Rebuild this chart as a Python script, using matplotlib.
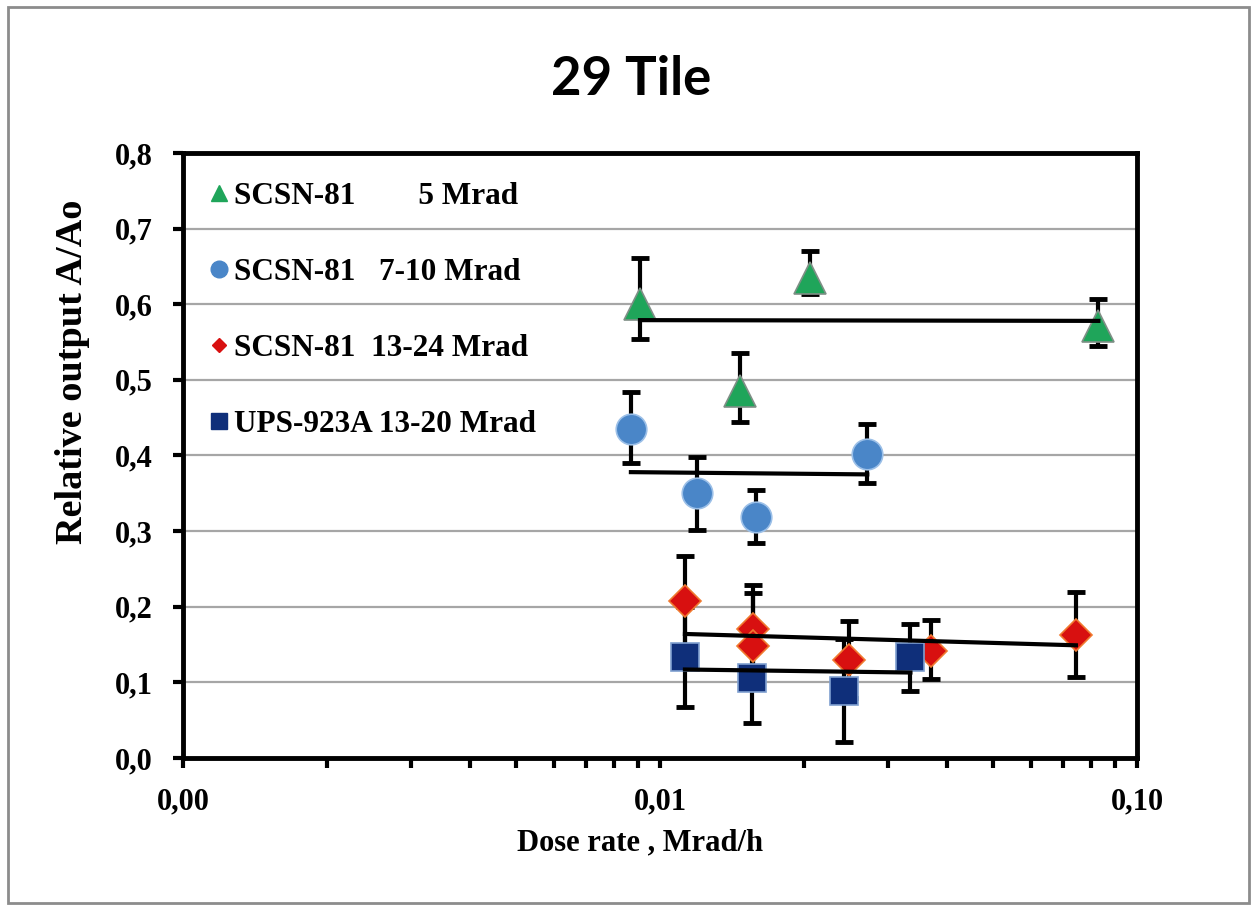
import matplotlib
matplotlib.use('Agg')
from matplotlib import pyplot as plt
from matplotlib.lines import Line2D
from matplotlib.patches import Rectangle
from matplotlib.ticker import FixedLocator, LogLocator, NullFormatter


# SCSN-81, 5 Mrad
green_x = [0.00908, 0.0206, 0.0147, 0.0830]
green_y = [0.600, 0.635, 0.485, 0.571]
green_lo = [0.046, 0.022, 0.041, 0.026]
green_hi = [0.061, 0.035, 0.051, 0.036]
green_fit_x = [0.00908, 0.0830]
green_fit_y = [0.579, 0.578]

# SCSN-81, 7-10 Mrad
blue_x = [0.00869, 0.01197, 0.01592, 0.0272]
blue_y = [0.435, 0.350, 0.319, 0.402]
blue_lo = [0.045, 0.048, 0.035, 0.039]
blue_hi = [0.049, 0.048, 0.035, 0.040]
blue_fit_x = [0.00869, 0.0272]
blue_fit_y = [0.378, 0.375]

# SCSN-81, 13-24 Mrad
red_x = [0.01128, 0.01567, 0.01567, 0.02494, 0.03707, 0.07447]
red_y = [0.207, 0.171, 0.148, 0.129, 0.142, 0.163]
red_lo = [0.060, 0.055, 0.050, 0.050, 0.038, 0.056]
red_hi = [0.060, 0.058, 0.070, 0.052, 0.040, 0.056]
red_fit_x = [0.01128, 0.07447]
red_fit_y = [0.164, 0.149]

# UPS-923A, 13-20 Mrad
navy_x = [0.01128, 0.01560, 0.02436, 0.03350]
navy_y = [0.134, 0.106, 0.089, 0.134]
navy_lo = [0.066, 0.060, 0.068, 0.046]
navy_hi = [0.066, 0.060, 0.068, 0.043]
navy_fit_x = [0.01128, 0.03350]
navy_fit_y = [0.117, 0.113]

labels = [
    'SCSN-81        5 Mrad',
    'SCSN-81   7-10 Mrad',
    'SCSN-81  13-24 Mrad',
    'UPS-923A 13-20 Mrad',
]
x_ticks = [0.001, 0.01, 0.1]
x_tick_labels = ['0,00', '0,01', '0,10']
y_ticks = [0.0, 0.1, 0.2, 0.3, 0.4, 0.5, 0.6, 0.7, 0.8]
y_tick_labels = ['0,0', '0,1', '0,2', '0,3', '0,4', '0,5', '0,6', '0,7', '0,8']

serif = ['Liberation Serif', 'DejaVu Serif']

fig = plt.figure(figsize=(12.57, 9.07), dpi=100)
fig.patches.append(Rectangle(
    (0.006, 0.004), 0.988, 0.988, transform=fig.transFigure,
    fill=False, edgecolor='#8c8c8c', linewidth=2,
))
ax = fig.add_axes([0.1456, 0.1643, 0.7589, 0.667])

ax.set_xscale('log')
ax.set_xlim(0.001, 0.1)
ax.set_ylim(0, 0.8)

series = [
    (green_x, green_y, green_lo, green_hi, green_fit_x, green_fit_y, '^', '#1fa55a', '#7f8f86', 23),
    (blue_x, blue_y, blue_lo, blue_hi, blue_fit_x, blue_fit_y, 'o', '#4a86c8', '#9cc0e8', 22),
    (red_x, red_y, red_lo, red_hi, red_fit_x, red_fit_y, 'D', '#d81010', '#f07a30', 16),
    (navy_x, navy_y, navy_lo, navy_hi, navy_fit_x, navy_fit_y, 's', '#0f2f7a', '#7f9fd0', 20),
]

for xs, ys, lo, hi, fx, fy, mk, fc, ec, ms in series:
    ax.errorbar(xs, ys, yerr=[lo, hi], fmt='none', ecolor='black',
                elinewidth=3, capsize=6.5, capthick=3.5, zorder=3)
    ax.plot(xs, ys, ls='none', marker=mk, ms=ms, mfc=fc, mec=ec, mew=1.2, zorder=4)
for xs, ys, lo, hi, fx, fy, mk, fc, ec, ms in series:
    ax.plot(fx, fy, c='black', lw=3, zorder=5)

ax.yaxis.grid(True, color='#a6a6a6', lw=1.6)
ax.set_axisbelow(True)
for s in ax.spines.values():
    s.set_linewidth(3.5)

ax.xaxis.set_major_locator(FixedLocator(x_ticks))
ax.set_xticklabels(x_tick_labels)
ax.xaxis.set_minor_locator(LogLocator(base=10, subs=range(2, 10)))
ax.xaxis.set_minor_formatter(NullFormatter())
ax.set_yticks(y_ticks)
ax.set_yticklabels(y_tick_labels)
ax.tick_params(axis='both', which='both', direction='out', length=7, width=3)
ax.tick_params(axis='x', pad=14)
ax.tick_params(axis='y', pad=15)
for t in ax.get_xticklabels() + ax.get_yticklabels():
    t.set_family(serif)
    t.set_fontweight('bold')
    t.set_fontsize(22)

ax.set_xlabel('Dose rate , Mrad/h', family=serif, fontweight='bold', fontsize=22)
ax.xaxis.set_label_coords(0.479, -0.117)
ax.set_ylabel('Relative output A/Ao', family=serif, fontweight='bold', fontsize=27.5)
ax.yaxis.set_label_coords(-0.097, 0.638)

fig.text(0.502, 0.912, '29 Tile', ha='center', va='center',
         family=['Lato', 'DejaVu Sans'], fontweight='bold', fontsize=38)

handles = [
    Line2D([], [], ls='none', marker='^', ms=11, mfc='#1fa55a', mec='#1fa55a'),
    Line2D([], [], ls='none', marker='o', ms=12, mfc='#4a86c8', mec='#4a86c8'),
    Line2D([], [], ls='none', marker='D', ms=7.5, mfc='#d81010', mec='#d81010'),
    Line2D([], [], ls='none', marker='s', ms=11, mfc='#0f2f7a', mec='#0f2f7a'),
]
ax.legend(handles, labels, loc='upper left', bbox_to_anchor=(-0.002, 0.998),
          frameon=False, handlelength=0.6, handletextpad=0.2, labelspacing=1.5,
          prop={'family': serif, 'weight': 'bold', 'size': 22.5})

fig.savefig('out.png', dpi=100)
